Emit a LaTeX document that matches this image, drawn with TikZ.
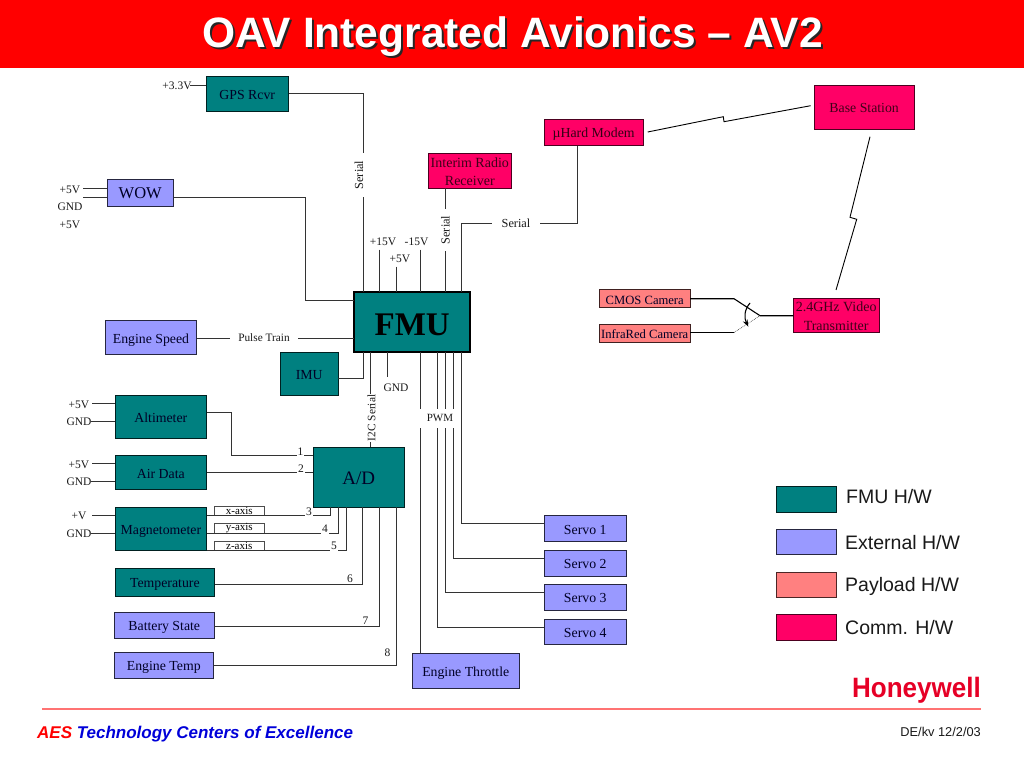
\documentclass[tikz,border=0pt]{standalone}
\usepackage{fontspec}
\usetikzlibrary{arrows.meta}
\setmainfont{Liberation Serif}
\newfontfamily\arialf{Liberation Sans}
\definecolor{fmuc}{HTML}{008080}
\definecolor{extc}{HTML}{9999FF}
\definecolor{payc}{HTML}{FF8080}
\definecolor{comc}{HTML}{FF0066}
\definecolor{wirec}{HTML}{333333}
\definecolor{hwred}{HTML}{E60026}
\newcommand{\fs}[1]{\fontsize{#1}{#1}\selectfont}
\newcommand{\bx}[7]{\node[#2,minimum width={(#5-#3)*1pt},minimum height={(#6-#4)*1pt}] (#1) at ({(#3+#5)/2},{(#4+#6)/2}) {#7};}
\tikzset{
  base box/.style={draw=#1,line width=1pt,inner sep=0pt,outer sep=0pt,align=center,text=black!85!blue,font=\fs{13.8}},
  oneline/.style={text height=11pt,text depth=0pt},
  fmubox/.style={base box=black!75!fmuc,fill=fmuc,oneline},
  extbox/.style={base box=black!75!extc,fill=extc,oneline},
  paybox/.style={base box=black!75!payc,fill=payc,oneline},
  combox/.style={base box=black!70!comc,fill=comc},
  axisbox/.style={draw=black!70,fill=white,line width=.8pt,inner sep=0pt,outer sep=0pt,font=\fs{11}},
  wire/.style={wirec,line width=1pt},
  lab/.style={font=\fs{11.5},inner sep=0pt,text=black!90},
  cut/.style={fill=white,inner sep=1pt,font=\fs{11.5},text=black!90},
  legtext/.style={font=\arialf\fs{19.5},anchor=west,inner sep=0pt,text=black!90,text height=14pt,text depth=0pt},
}
\begin{document}
\begin{tikzpicture}[x=1pt,y=-1pt]
\useasboundingbox (0,0) rectangle (1024,768);
% header
\fill[red] (0,0) rectangle (1024,68);
\node[font=\arialf\bfseries\fs{42.5},text=black!85,inner sep=0pt] (titleshadow) at (514.5,39) {OAV Integrated Avionics – AV2};
\node[font=\arialf\bfseries\fs{42.5},text=white,inner sep=0pt] (title) at (512.5,37) {OAV Integrated Avionics – AV2};
% boxes
\bx{gps}{fmubox}{206}{76.5}{288.5}{111}{GPS Rcvr}
\bx{wow}{extbox,font=\fs{16.5}}{107}{179.5}{173.5}{206}{WOW}
\bx{speed}{extbox}{105.5}{320.5}{196.5}{354.5}{Engine Speed}
\bx{imu}{fmubox}{280.5}{352}{338}{395}{IMU}
\node[draw=black,line width=2pt,fill=fmuc,inner sep=0pt,outer sep=0pt,minimum width=116pt,minimum height=60pt,font=\bfseries\fs{33},text=black,text height=26pt,text depth=0pt] (fmu) at (412.2,322) {FMU};
\bx{alt}{fmubox}{115}{395}{206.7}{438}{Altimeter}
\bx{air}{fmubox}{115}{455.5}{206.7}{489.5}{Air Data}
\bx{mag}{fmubox}{115}{507}{206.7}{550}{Magnetometer}
\bx{temp}{fmubox}{115}{568}{214.7}{596}{Temperature}
\bx{batt}{extbox}{114.5}{612.5}{214}{638}{Battery State}
\bx{etemp}{extbox}{114}{652.5}{213.5}{678}{Engine Temp}
\bx{ad}{fmubox,font=\fs{19},text height=14.6pt}{313}{447}{404.5}{507}{A/D}
\bx{radio}{combox,font=\fs{14},text=black!75!comc}{428.3}{153.3}{511.3}{188}{\rule{0pt}{11.5pt}Interim Radio\\[4.5pt]Receiver}
\bx{modem}{combox,text=black!80!comc,oneline}{544}{119.3}{643.3}{145.5}{µHard Modem}
\bx{bs}{combox,text=black!75!comc,oneline}{814.3}{85}{914}{129}{Base Station}
\bx{cmos}{paybox,font=\fs{12.6}}{599.5}{289.5}{690}{307.5}{CMOS Camera}
\bx{ir}{paybox,font=\fs{12.6}}{599.5}{324}{690}{342}{InfraRed Camera}
\bx{vid}{combox,font=\fs{14},text=black!75!comc}{793.3}{298.3}{879}{332.5}{\rule{0pt}{11.5pt}2.4GHz Video\\[5pt]Transmitter}
\bx{s1}{extbox}{544}{515.7}{626.5}{541.5}{Servo 1}
\bx{s2}{extbox}{544}{550}{626.5}{576}{Servo 2}
\bx{s3}{extbox}{544}{584.5}{626.5}{610}{Servo 3}
\bx{s4}{extbox}{544}{619}{626.5}{644.5}{Servo 4}
\bx{thr}{extbox}{412}{653}{519.5}{688}{Engine Throttle}
\bx{xa}{axisbox}{214.3}{506.7}{264.3}{515.7}{x-axis}
\bx{ya}{axisbox}{214.3}{524}{264.3}{533}{y-axis}
\bx{za}{axisbox}{214.3}{541}{264.3}{550}{z-axis}
% legend
\bx{lf}{fmubox}{776}{486}{836.5}{512}{}
\bx{le}{extbox}{776}{529}{836.5}{554.5}{}
\bx{lp}{paybox,draw=black!70!payc}{776}{572}{836.5}{597}{}
\bx{lc}{combox}{776}{614.5}{836.5}{640}{}
\node[legtext] (tf) at (846,496.5) {FMU H/W};
\node[legtext] (te) at (845,542) {External H/W};
\node[legtext] (tp) at (845,584.5) {Payload H/W};
\node[legtext] (tc) at (845,627) {Comm. H/W};
% free ends
\coordinate (p33) at (190,85);
\coordinate (w5a) at (83,188);
\coordinate (w5b) at (83,197);
\coordinate (a5) at (92,403);
\coordinate (ag) at (91,421);
\coordinate (d5) at (92,463.5);
\coordinate (dg) at (91,481);
\coordinate (m5) at (92,515.5);
\coordinate (mg) at (91,533);
\coordinate (v15) at (379.5,249.5);
\coordinate (v5) at (396,266.5);
\coordinate (vn) at (420.5,249.5);
\coordinate (g) at (387.5,377);
\coordinate (m1) at (647.7,132);
\coordinate (m2) at (723.3,116.7);
\coordinate (m3) at (724,121.7);
\coordinate (m4) at (810.7,105.7);
\coordinate (b1) at (870,136.7);
\coordinate (b2) at (850,217.3);
\coordinate (b3) at (856.7,219.3);
\coordinate (b4) at (836,290);
\coordinate (sw1) at (734,298.7);
\coordinate (sw2) at (734,332.5);
\coordinate (swc) at (760,315.7);
\coordinate (arca) at (750,303);
\coordinate (arcb) at (748.3,326.7);
% wires
\draw[wire] (p33) -- (gps.west |- p33);
\draw[wire] (gps.east |- 0,93) -- (363,93) -- (fmu.north -| 363,0);
\draw[wire] (w5a) -- (wow.west |- w5a);
\draw[wire] (w5b) -- (wow.west |- w5b);
\draw[wire] (wow.east |- 0,197) -- (305,197) -- (305,300) -- (fmu.west |- 0,300);
\draw[wire] (speed.east |- 0,338) -- (fmu.west |- 0,338);
\draw[wire] (imu.east |- 0,378) -- (363,378) -- (fmu.south -| 363,0);
\draw[wire] (v15) -- (fmu.north -| v15);
\draw[wire] (v5) -- (fmu.north -| v5);
\draw[wire] (vn) -- (fmu.north -| vn);
\draw[wire] (radio.south -| 445,0) -- (fmu.north -| 445,0);
\draw[wire] (modem.south -| 577,0) -- (577,223) -- (461.5,223) -- (fmu.north -| 461.5,0);
\draw[wire] (fmu.south -| 370.5,0) -- (ad.north -| 370.5,0);
\draw[wire] (fmu.south -| g) -- (g);
\draw[wire] (fmu.south -| 420.5,0) -- (thr.north -| 420.5,0);
\draw[wire] (fmu.south -| 437,0) -- (437,627.3) -- (s4.west |- 0,627.3);
\draw[wire] (fmu.south -| 445,0) -- (445,592.7) -- (s3.west |- 0,592.7);
\draw[wire] (fmu.south -| 453.5,0) -- (453.5,558.3) -- (s2.west |- 0,558.3);
\draw[wire] (fmu.south -| 461.5,0) -- (461.5,523.7) -- (s1.west |- 0,523.7);
\draw[wire] (a5) -- (alt.west |- a5);
\draw[wire] (ag) -- (alt.west |- ag);
\draw[wire] (d5) -- (air.west |- d5);
\draw[wire] (dg) -- (air.west |- dg);
\draw[wire] (m5) -- (mag.west |- m5);
\draw[wire] (mg) -- (mag.west |- mg);
\draw[wire] (alt.east |- 0,412) -- (231,412) -- (231,455.6) -- (ad.west |- 0,455.6);
\draw[wire] (air.east |- 0,472.6) -- (ad.west |- 0,472.6);
\draw[wire] (mag.east |- 0,515.6) -- (330,515.6) -- (ad.south -| 330,0);
\draw[wire] (mag.east |- 0,533) -- (338,533) -- (ad.south -| 338,0);
\draw[wire] (mag.east |- 0,550) -- (346.5,550) -- (ad.south -| 346.5,0);
\draw[wire] (temp.east |- 0,584) -- (362.5,584) -- (ad.south -| 362.5,0);
\draw[wire] (batt.east |- 0,626.7) -- (379,626.7) -- (ad.south -| 379,0);
\draw[wire] (etemp.east |- 0,665) -- (396,665) -- (ad.south -| 396,0);
\draw[black,line width=.9pt] (m1) -- (m2) -- (m3) -- (m4);
\draw[black,line width=.9pt] (b1) -- (b2) -- (b3) -- (b4);
\draw[black,line width=1.1pt] (cmos.east |- sw1) -- (sw1) -- (swc) -- (vid.west |- swc);
\draw[black,line width=1.1pt] (ir.east |- sw2) -- (sw2);
\draw[black!70,line width=.7pt,densely dotted] (sw2) -- (swc);
\draw[black,line width=1.1pt,-{Stealth[length=7pt,width=5pt]}] (arca) .. controls (744,310) and (744,318) .. (arcb);
% labels
\node[lab] (l33) at (177,85.5) {+3.3V};
\node[lab] (w1) at (70,189.5) {+5V};
\node[lab] (w2) at (70,206.5) {GND};
\node[lab] (w3) at (70,224.5) {+5V};
\node[lab] (la5) at (79,404.5) {+5V};
\node[lab] (lag) at (79,421.5) {GND};
\node[lab] (ld5) at (79,464.5) {+5V};
\node[lab] (ldg) at (79,481.5) {GND};
\node[lab] (lm5) at (79,516) {+V};
\node[lab] (lmg) at (79,533.5) {GND};
\node[lab] (l15) at (383,241.5) {+15V};
\node[lab] (l5) at (400,258.5) {+5V};
\node[lab] (ln) at (416.5,241.5) {-15V};
\node[lab] (lg) at (396,387.5) {GND};
\node[cut,rotate=90,fill=white,inner xsep=8pt,inner ysep=2pt,font=\fs{12.3}] (ls1) at (359,175) {Serial};
\node[cut,rotate=90,inner xsep=7pt,inner ysep=1pt,font=\fs{12.3}] (ls2) at (445.5,230) {Serial};
\node[cut,inner xsep=10pt,inner ysep=2pt,font=\fs{12.3}] (ls3) at (516,223) {Serial};
\node[cut,inner xsep=8pt,inner ysep=2pt,font=\fs{11.3}] (lp) at (264,338) {Pulse Train};
\node[cut,rotate=90,inner xsep=1pt,inner ysep=1pt,font=\fs{11.4}] (li) at (371.5,418) {I2C Serial};
\node[cut,fill=white,minimum width=37pt,minimum height=19pt,inner sep=0pt,font=\fs{11}] (lw) at (437.5,418) {\hspace{5pt}PWM};
\node[cut] (n1) at (300.5,452) {1};
\node[cut] (n2) at (301,468.5) {2};
\node[cut] (n3) at (309,512) {3};
\node[cut] (n4) at (325,529) {4};
\node[cut] (n5) at (334,546) {5};
\node[lab] (n6) at (350,578.5) {6};
\node[lab] (n7) at (365.5,620.5) {7};
\node[lab] (n8) at (387.5,653) {8};
% footer
\node[font=\arialf\bfseries\fs{28},text=hwred,xscale=.93,inner sep=0pt,anchor=base east] (hw) at (981,697.5) {Honeywell};
\draw[red!55,line width=1.2pt] (42,709) -- (981,709);
\node[font=\arialf\bfseries\itshape\fs{17},inner sep=0pt,anchor=base west] (aes) at (37,738.5) {\textcolor{red}{AES} \textcolor{blue!85!black}{Technology Centers of Excellence}};
\node[font=\arialf\fs{12.8},inner sep=0pt,anchor=base east,text=black!90] (de) at (981,736.5) {DE/kv 12/2/03};
\end{tikzpicture}
\end{document}
